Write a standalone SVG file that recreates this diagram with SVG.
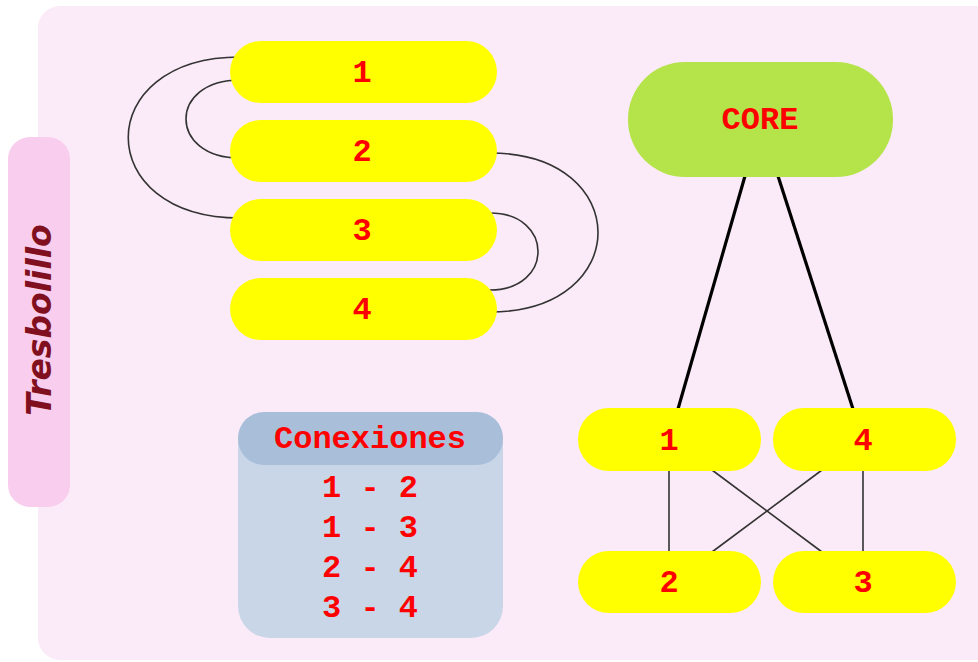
<svg xmlns="http://www.w3.org/2000/svg" width="978" height="662" viewBox="0 0 978 662">
  <style>
    .pill { fill: #ffff00; }
    .num { font-family: "Liberation Mono", "Courier New", monospace; font-weight: bold; font-size: 32px; fill: #ff0000; text-anchor: middle; }
    .thin { fill: none; stroke: #333; stroke-width: 1.6; }
    .thick { fill: none; stroke: #000; stroke-width: 3.2; }
  </style>

  <!-- white page and pink panel -->
  <rect x="0" y="0" width="978" height="662" fill="#ffffff"/>
  <rect id="panel" x="38" y="6" width="960" height="654" rx="22" fill="#fbebf8"/>

  <!-- vertical title tab -->
  <g id="title">
    <rect x="8" y="137" width="62" height="370" rx="22" fill="#f9cdee"/>
    <text x="0" y="0" transform="translate(51,320) rotate(-90)" font-family="'DejaVu Sans', Verdana, sans-serif" font-weight="bold" font-style="italic" font-size="33" fill="#801020" text-anchor="middle">Tresbolillo</text>
  </g>

  <!-- connectors -->
  <g id="connectors">
    <!-- stacked layout: 1-3, 1-2 on the left; 2-4, 3-4 on the right -->
    <path class="thin" d="M 240 57 C 91 57, 91 218, 240 218"/>
    <path class="thin" d="M 240 80 C 168 80, 168 158, 240 158"/>
    <path class="thin" d="M 490 153 C 634 153, 634 312, 490 312"/>
    <path class="thin" d="M 490 213 C 554 213, 554 290, 490 290"/>
    <!-- core uplinks -->
    <line class="thick" x1="745" y1="176" x2="678" y2="409"/>
    <line class="thick" x1="778" y1="176" x2="853" y2="409"/>
    <!-- square with crossed links -->
    <line class="thin" x1="669" y1="470" x2="669" y2="552"/>
    <line class="thin" x1="863" y1="470" x2="863" y2="552"/>
    <line class="thin" x1="712" y1="470" x2="822" y2="552"/>
    <line class="thin" x1="822" y1="470" x2="712" y2="552"/>
  </g>

  <!-- stacked nodes -->
  <g id="s1"><rect class="pill" x="230" y="41" width="267" height="62" rx="31"/><text class="num" x="362" y="82">1</text></g>
  <g id="s2"><rect class="pill" x="230" y="120" width="267" height="62" rx="31"/><text class="num" x="362" y="161">2</text></g>
  <g id="s3"><rect class="pill" x="230" y="199" width="267" height="62" rx="31"/><text class="num" x="362" y="240">3</text></g>
  <g id="s4"><rect class="pill" x="230" y="278" width="267" height="62" rx="31"/><text class="num" x="362" y="319">4</text></g>

  <!-- core node -->
  <g id="core">
    <rect x="628" y="62" width="265" height="115" rx="57" fill="#b5e34a"/>
    <text class="num" x="760" y="129" font-size="30">CORE</text>
  </g>

  <!-- square layout nodes -->
  <g id="q1"><rect class="pill" x="578" y="408" width="183" height="63" rx="31"/><text class="num" x="669" y="450">1</text></g>
  <g id="q4"><rect class="pill" x="773" y="408" width="183" height="63" rx="31"/><text class="num" x="863" y="450">4</text></g>
  <g id="q2"><rect class="pill" x="578" y="551" width="183" height="62" rx="31"/><text class="num" x="669" y="592">2</text></g>
  <g id="q3"><rect class="pill" x="773" y="551" width="183" height="62" rx="31"/><text class="num" x="863" y="592">3</text></g>

  <!-- connection list -->
  <g id="conexiones">
    <rect x="238" y="412" width="265" height="226" rx="32" fill="#c8d6e8"/>
    <rect x="238" y="412" width="265" height="53" rx="26" fill="#a9bfd9"/>
    <text class="num" x="370" y="448">Conexiones</text>
    <text class="num" x="370" y="497">1 - 2</text>
    <text class="num" x="370" y="537">1 - 3</text>
    <text class="num" x="370" y="577">2 - 4</text>
    <text class="num" x="370" y="617">3 - 4</text>
  </g>
</svg>
